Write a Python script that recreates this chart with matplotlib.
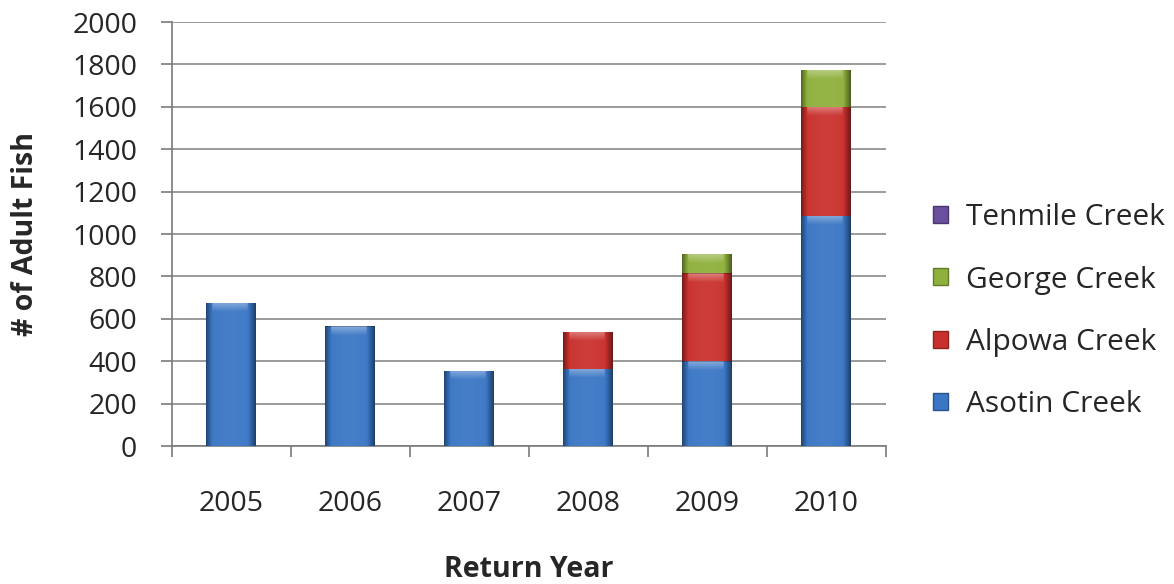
import numpy as np
import matplotlib
matplotlib.use("Agg")
import matplotlib.pyplot as plt
from matplotlib.colors import to_rgb
from matplotlib.patches import Patch

years = ["2005", "2006", "2007", "2008", "2009", "2010"]
asotin = [675, 565, 355, 365, 400, 1085]
alpowa = [0, 0, 0, 175, 415, 515]
george = [0, 0, 0, 0, 90, 175]
tenmile = [0, 0, 0, 0, 0, 0]

series = [
    ("Asotin Creek", asotin, "#3a76c4"),
    ("Alpowa Creek", alpowa, "#c9302c"),
    ("George Creek", george, "#8fb03c"),
    ("Tenmile Creek", tenmile, "#6a4f9e"),
]

plt.rcParams["font.family"] = ["Open Sans", "DejaVu Sans"]
TXT = "#262626"
FS = 20.5

fig = plt.figure(figsize=(11.74, 5.84), dpi=100)
ax = fig.add_axes([0.1465, 0.2363, 0.608, 0.726])

x = np.arange(len(years))
width = 0.42
units_per_px = 2000 / 424.0


def shade(base, f):
    b = np.array(to_rgb(base))
    if f >= 0:
        return b + (1 - b) * f
    return b * (1 + f)


def bevel_image(base, height_units):
    # horizontal shading: dark rims, brighter body; light cap at top
    ncols = 48
    nrows = max(2, int(round(height_units / units_per_px)))
    u = np.linspace(0, 1, ncols)
    prof = np.where(u < 0.12, -0.40 + (u / 0.12) * 0.40,
                    np.where(u > 0.85, -(u - 0.85) / 0.15 * 0.45, 0.0))
    prof = prof + 0.06 * np.sin(np.pi * u)
    img = np.zeros((nrows, ncols, 3))
    for j, f in enumerate(prof):
        img[:, j] = shade(base, f)
    cap = min(9, nrows)
    inner = (u > 0.12) & (u < 0.85)
    for i in range(cap):
        t = 1 - i / max(cap, 1)
        img[i, inner] = img[i, inner] + (1 - img[i, inner]) * 0.35 * t
    # dark line at segment top
    img[0, :] = img[0, :] * 0.75
    return np.clip(img, 0, 1)


bottom = np.zeros(len(years))
handles = []
for name, vals, col in series:
    vals = np.array(vals, dtype=float)
    bars = ax.bar(x, vals, width, bottom=bottom, color=col, edgecolor="none",
                  zorder=3)
    for rect, v in zip(bars, vals):
        if v <= 0:
            continue
        x0, y0 = rect.get_x(), rect.get_y()
        w, h = rect.get_width(), rect.get_height()
        im = ax.imshow(bevel_image(col, h), extent=[x0, x0 + w, y0, y0 + h],
                       aspect="auto", origin="upper", zorder=4,
                       interpolation="bilinear")
        im.set_clip_path(rect)
    bottom += vals
    handles.append(Patch(facecolor=col, edgecolor=shade(col, -0.3)))

ax.set_xlim(-0.5, len(years) - 0.5)
ax.set_ylim(0, 2000)
ax.set_yticks(np.arange(0, 2001, 200))
ax.yaxis.grid(True, color="#8a8a8a", linewidth=1.2, zorder=0)
ax.set_axisbelow(True)

ax.set_xticks(np.arange(-0.5, len(years), 1.0))
ax.set_xticklabels([])
ax.set_xticks(x, minor=True)
ax.set_xticklabels(years, minor=True)
ax.tick_params(axis="x", which="major", direction="out", length=8,
               color="#7a7a7a", width=1.2)
ax.tick_params(axis="x", which="minor", length=0, pad=32, labelsize=FS,
               labelcolor=TXT)
ax.tick_params(axis="y", direction="out", length=8, color="#7a7a7a",
               width=1.2, labelsize=FS, labelcolor=TXT, pad=17)

for s in ("top", "right"):
    ax.spines[s].set_visible(False)
for s in ("left", "bottom"):
    ax.spines[s].set_color("#7a7a7a")
    ax.spines[s].set_linewidth(1.2)

ax.set_ylabel("# of Adult Fish", fontsize=20.5, fontweight="bold", color=TXT)
ax.yaxis.set_label_coords(-0.185, 0.5)
ax.set_xlabel("Return Year", fontsize=20.5, fontweight="bold", color=TXT)
ax.xaxis.set_label_coords(0.5, -0.258)

names = [s[0] for s in series]
leg = fig.legend(handles[::-1], names[::-1], loc="center left",
                 bbox_to_anchor=(0.772, 0.467), frameon=False, fontsize=21.5,
                 handlelength=0.5, handleheight=0.5, handletextpad=0.6,
                 labelspacing=1.12, labelcolor=TXT)

fig.savefig("out.png", dpi=100)
